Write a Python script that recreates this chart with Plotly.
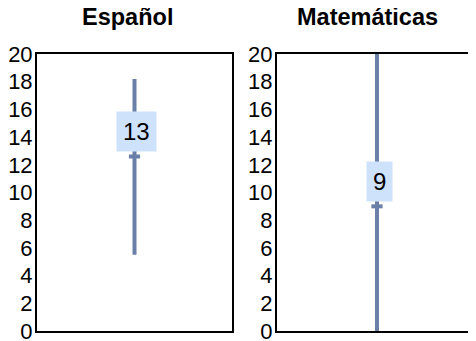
import plotly.graph_objects as go
from plotly.subplots import make_subplots

# data
subjects = ["Español", "Matemáticas"]
means = [12.6, 9.0]
lows = [5.5, 0.0]
highs = [18.2, 20.0]
y_ticks = list(range(0, 21, 2))

bar_color = "#6a80a8"
box_color = "#cfe2fb"
font = "Liberation Sans, Arial, sans-serif"

fig = make_subplots(rows=1, cols=2)

for i, name in enumerate(subjects):
    col = i + 1
    fig.add_trace(go.Scatter(
        x=[0], y=[means[i]],
        mode="markers",
        marker=dict(symbol="line-ew-open", size=8, color=bar_color,
                    line=dict(width=4, color=bar_color)),
        error_y=dict(type="data", symmetric=False,
                     array=[highs[i] - means[i]],
                     arrayminus=[means[i] - lows[i]],
                     color=bar_color, thickness=4, width=0),
        showlegend=False, hoverinfo="skip", cliponaxis=True,
    ), row=1, col=col)

    fig.add_annotation(
        x=0, y=means[i], xref=f"x{col if col > 1 else ''}", yref=f"y{col if col > 1 else ''}",
        text=str(round(means[i])), showarrow=False,
        yanchor="bottom", yshift=4, xshift=2,
        bgcolor=box_color, borderpad=6,
        font=dict(family=font, size=24, color="black"),
    )

# panel geometry, pixels of the picture minus the 8px page margin
W, H = 476, 341
OFF = 8
fig.update_layout(
    width=W, height=H,
    margin=dict(l=0, r=0, t=0, b=0, autoexpand=False),
    plot_bgcolor="white", paper_bgcolor="white",
    xaxis=dict(domain=[(37 - OFF) / W, (232 - OFF) / W]),
    xaxis2=dict(domain=[(277 - OFF) / W, (477 - OFF) / W]),
    yaxis=dict(domain=[(H - 331 + OFF) / H, (H - 54 + OFF) / H]),
    yaxis2=dict(domain=[(H - 331 + OFF) / H, (H - 54 + OFF) / H]),
)

fig.update_xaxes(range=[-1, 1], showticklabels=False, showgrid=False,
                 zeroline=False, showline=True, linecolor="black",
                 linewidth=2, mirror=True, automargin=False)
fig.update_yaxes(range=[0, 20], tickvals=y_ticks, showgrid=False,
                 zeroline=False, showline=True, linecolor="black",
                 linewidth=2, ticks="", ticklabelstandoff=-2, automargin=False,
                 tickfont=dict(family=font, size=22, color="black"))
fig.update_yaxes(mirror=True, row=1, col=1)

# titles
for name, cx in zip(subjects, [127.5, 367]):
    fig.add_annotation(
        x=(cx - OFF) / W, y=1, xref="paper", yref="paper",
        xanchor="center", yanchor="top", yshift=6,
        text=f"<b>{name}</b>", showarrow=False,
        font=dict(family=font, size=23.5, color="black"),
    )

fig.write_html("out.html")
